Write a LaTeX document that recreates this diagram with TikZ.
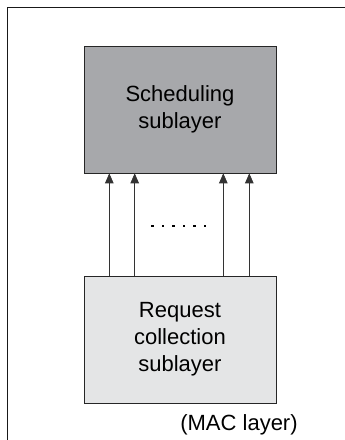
\documentclass[tikz,border=0pt]{standalone}
\usepackage{fontspec}
\setmainfont{Liberation Sans}
\usetikzlibrary{arrows.meta}
\definecolor{schedgray}{HTML}{A7A8AB}
\definecolor{reqgray}{HTML}{E4E5E6}
\begin{document}
\begin{tikzpicture}[x=1pt,y=-1pt,
  layerbox/.style={draw=black!85, line width=0.9pt, minimum width=192pt,
    minimum height=127pt, inner sep=0pt, align=center,
    font=\fontsize{22}{27}\selectfont, anchor=north west},
  uplink/.style={draw=black!80, line width=0.7pt,
    -{Triangle[length=10pt,width=8.5pt]}},
  dotmark/.style={rectangle, fill=black, inner sep=0pt, minimum size=2.6pt}]
  \useasboundingbox (0,0) rectangle (345,440);
  % open frame of the MAC layer (top and left edges)
  \coordinate (fl) at (7.5,440);
  \coordinate (ftl) at (7.5,7.3);
  \coordinate (fr) at (345,7.3);
  \draw[line width=1.5pt, black!90] (fl) -- (ftl) -- (fr);
  % the two sublayers
  \node[layerbox, fill=schedgray] (sched) at (83.5,45.7) {Scheduling\\sublayer};
  \node[layerbox, fill=reqgray] (req) at (83.5,275.7) {Request\\collection\\sublayer};
  % request lines from the collection sublayer up to the scheduler
  \foreach \x [count=\i] in {109.3,134.7,223.3,249.3} {
    \coordinate (s\i) at (\x,275.7);
    \coordinate (e\i) at (\x,173.3);
    \draw[uplink] (s\i) -- (e\i);
  }
  % ellipsis between the two groups of lines
  \foreach \x [count=\i] in {152.5,163,173.5,184,194.5,205} {
    \node[dotmark] (d\i) at (\x,226) {};
  }
  \node[font=\fontsize{22}{27}\selectfont] (mac) at (239,425) {(MAC layer)};
\end{tikzpicture}
\end{document}
